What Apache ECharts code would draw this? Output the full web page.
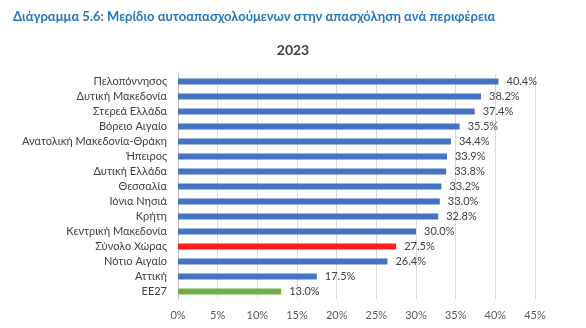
<!DOCTYPE html>
<html><head><meta charset="utf-8">
<script src="https://cdn.jsdelivr.net/npm/echarts@6/dist/echarts.min.js"></script>
<style>html,body{margin:0;padding:0;background:#fff}#c{width:586px;height:328px}</style>
</head><body><div id="c"></div>
<script>
const categories = ["Πελοπόννησος","Δυτική Μακεδονία","Στερεά Ελλάδα","Βόρειο Αιγαίο","Ανατολική Μακεδονία-Θράκη","Ήπειρος","Δυτική Ελλάδα","Θεσσαλία","Ιόνια Νησιά","Κρήτη","Κεντρική Μακεδονία","Σύνολο Χώρας","Νότιο Αιγαίο","Αττική","ΕΕ27"];
const values = [40.4,38.2,37.4,35.5,34.4,33.9,33.8,33.2,33.0,32.8,30.0,27.5,26.4,17.5,13.0];
const barColors = ["#4472C4","#4472C4","#4472C4","#4472C4","#4472C4","#4472C4","#4472C4","#4472C4","#4472C4","#4472C4","#4472C4","#FF1E1E","#4472C4","#4472C4","#70AD47"];
const xTicks = [0,5,10,15,20,25,30,35,40,45];
const FONT = "Lato, 'Open Sans', sans-serif";
const chart = echarts.init(document.getElementById('c'));
chart.setOption({
  animation:false,
  title:[
    {text:"Διάγραμμα 5.6: Μερίδιο αυτοαπασχολούμενων στην απασχόληση ανά περιφέρεια",left:8,top:5,textStyle:{color:"#2478C0",fontSize:13,fontWeight:"bold",fontFamily:FONT}},
    {text:"2023",left:"center",top:38,textStyle:{color:"#404040",fontSize:14,fontWeight:"bold",fontFamily:FONT}}
  ],
  grid:{left:178,right:51,top:74,height:225,containLabel:false},
  xAxis:{type:"value",min:xTicks[0],max:xTicks[xTicks.length-1],interval:5,
    axisLine:{show:false},axisTick:{show:false},
    axisLabel:{formatter:v=>v+"%",color:"#595959",fontSize:11,fontFamily:FONT,margin:11},
    splitLine:{lineStyle:{color:"#d9d9d9",width:1}}},
  yAxis:{type:"category",data:categories,inverse:true,
    axisLine:{show:true,lineStyle:{color:"#bfbfbf"}},axisTick:{show:false},
    axisLabel:{color:"#404040",fontSize:11,fontFamily:FONT,margin:11}},
  series:[{type:"bar",barWidth:6,
    data:values.map((v,i)=>({value:v,itemStyle:{color:barColors[i]}})),
    label:{show:true,position:"right",distance:8,formatter:p=>p.value.toFixed(1)+"%",color:"#404040",fontSize:11,fontFamily:FONT}}]
});
</script></body></html>
